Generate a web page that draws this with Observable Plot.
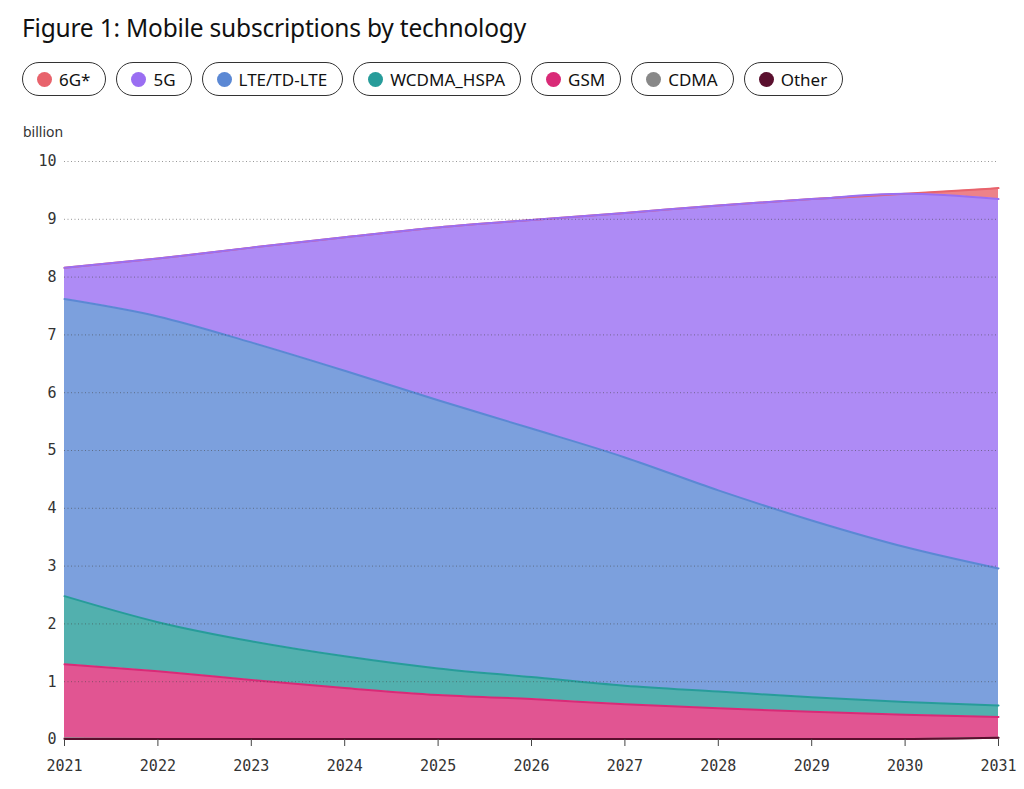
<!DOCTYPE html>
<html>
<head>
<meta charset="utf-8">
<script src="https://cdn.jsdelivr.net/npm/d3@7"></script>
<script src="https://cdn.jsdelivr.net/npm/@observablehq/plot@0.6"></script>
<style>
  html, body { margin: 0; padding: 0; background: #fff; }
  body { width: 1024px; height: 789px; position: relative; overflow: hidden; font-family: "Noto Sans", sans-serif; color: #111; }
  #title { position: absolute; left: 22px; top: 11px; font-size: 24.5px; font-weight: 400; letter-spacing: -0.2px; }
  #legend { position: absolute; left: 22px; top: 62px; display: flex; gap: 10px; }
  .pill { border: 1px solid #333; border-radius: 18px; display: flex; align-items: center; padding: 0 15px 0 14px; font-size: 17px; box-sizing: border-box; height: 34px; }
  .dot { width: 15px; height: 15px; border-radius: 50%; margin-right: 7px; }
  #unit { position: absolute; left: 23px; top: 122px; font-size: 14px; color: #333; }
  #chart { position: absolute; left: 0; top: 140px; }
</style>
</head>
<body>
<div id="title">Figure 1: Mobile subscriptions by technology</div>
<div id="legend"></div>
<div id="unit">billion</div>
<div id="chart"></div>
<script>
// ---- data (billion subscriptions) ----
const years = [2021, 2022, 2023, 2024, 2025, 2026, 2027, 2028, 2029, 2030, 2031];
const other = [0.01, 0.01, 0.01, 0.01, 0.01, 0.01, 0.01, 0.01, 0.01, 0.01, 0.03];
const cdma  = [0.01, 0.00, 0.00, 0.00, 0.00, 0.00, 0.00, 0.00, 0.00, 0.00, 0.00];
const gsm   = [1.28, 1.17, 1.02, 0.88, 0.76, 0.69, 0.60, 0.53, 0.47, 0.42, 0.36];
const wcdma = [1.18, 0.85, 0.67, 0.55, 0.46, 0.38, 0.32, 0.29, 0.25, 0.22, 0.20];
const lte   = [5.14, 5.29, 5.17, 4.94, 4.64, 4.30, 3.95, 3.48, 3.06, 2.68, 2.37];
const g5    = [0.54, 1.00, 1.64, 2.31, 2.99, 3.61, 4.23, 4.93, 5.56, 6.11, 6.39];
const g6    = [0.00, 0.00, 0.00, 0.00, 0.00, 0.00, 0.00, 0.00, 0.00, 0.00, 0.19];

const seriesNames = ["6G*", "5G", "LTE/TD-LTE", "WCDMA_HSPA", "GSM", "CDMA", "Other"];
const seriesColors = ["#e8636c", "#9a6ef2", "#5b88d4", "#279c9a", "#d92a77", "#888888", "#5a0f2e"];
const seriesValues = [g6, g5, lte, wcdma, gsm, cdma, other];
const yTicks = [0, 1, 2, 3, 4, 5, 6, 7, 8, 9, 10];

// legend
const legend = document.getElementById("legend");
seriesNames.forEach((n, i) => {
  const p = document.createElement("div");
  p.className = "pill";
  p.innerHTML = `<span class="dot" style="background:${seriesColors[i]}"></span>${n}`;
  legend.appendChild(p);
});

// long table: rows listed top series first (drawing order for lines)
const rows = [];
seriesNames.forEach((name, i) => {
  years.forEach((yr, j) => rows.push({year: yr, series: name, value: seriesValues[i][j]}));
});
// stacking order bottom-to-top
const stackOrder = seriesNames.slice().reverse();

const mono = "DejaVu Sans Mono, monospace";

const chart = Plot.plot({
  width: 1024,
  height: 650,
  marginLeft: 64,
  marginRight: 26,
  marginTop: 21,
  marginBottom: 51,
  x: {domain: [2021, 2031], label: null},
  y: {domain: [0, 10], label: null},
  color: {domain: seriesNames, range: seriesColors},
  style: {fontFamily: mono, fontSize: "15px", color: "#333", background: "transparent"},
  marks: [
    Plot.areaY(rows, Plot.stackY({x: "year", y: "value", z: "series", order: stackOrder,
      fill: "series", fillOpacity: 0.8, curve: "monotone-x"})),
    Plot.lineY(rows, Plot.stackY2({x: "year", y: "value", z: "series", order: stackOrder,
      stroke: "series", strokeWidth: 2, curve: "monotone-x"})),
    Plot.gridY(yTicks.filter(d => d > 0), {stroke: "#444", strokeOpacity: 0.55, strokeDasharray: "1,2.5", strokeWidth: 1}),
    Plot.axisY({ticks: yTicks, tickSize: 0, tickPadding: 8, fontSize: 15}),
    Plot.axisX({ticks: years, tickFormat: d => String(d), tickSize: 7, tickPadding: 14, fontSize: 15, stroke: "#444"})
  ]
});
document.getElementById("chart").appendChild(chart);
</script>
</body>
</html>
